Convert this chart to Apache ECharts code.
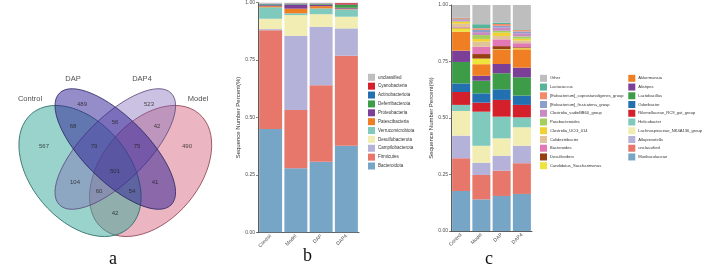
<!DOCTYPE html>
<html>
<head>
<meta charset="utf-8">
<script src="https://cdn.jsdelivr.net/npm/echarts@6/dist/echarts.min.js"></script>
<style>
html, body { margin: 0; padding: 0; background: #fff; }
#main { width: 709px; height: 271px; }
</style>
</head>
<body>
<div id="main"></div>
<script>
// groups on the x axis of b and c
const groups = ['Control', 'Model', 'DAP', 'DAP4']

// a: venn
const vennSets = ['Model', 'Control', 'DAP4', 'DAP']
const vennCounts = [489, 523, 68, 56, 42, 567, 79, 75, 490, 501, 104, 41, 60, 54, 42]

// b: phylum level, listed bottom -> top of each bar
const phylumNames = ['Bacteroidota', 'Firmicutes', 'Campilobacterota', 'Desulfobacterota', 'Verrucomicrobiota',
  'Patescibacteria', 'Proteobacteria', 'Deferribacterota', 'Actinobacteriota', 'Cyanobacteria', 'unclassified']
const phylumControl = [0.450, 0.430, 0.005, 0.045, 0.050, 0.005, 0.004, 0.003, 0.002, 0.001, 0.005]
const phylumModel = [0.279, 0.254, 0.323, 0.090, 0.008, 0.020, 0.018, 0.002, 0.002, 0.001, 0.003]
const phylumDAP = [0.307, 0.334, 0.254, 0.055, 0.025, 0.010, 0.006, 0.003, 0.002, 0.001, 0.003]
const phylumDAP4 = [0.377, 0.392, 0.119, 0.051, 0.032, 0.003, 0.004, 0.012, 0.002, 0.006, 0.002]

// c: genus level, listed bottom -> top of each bar
const genusNames = ['Muribaculaceae', 'unclassified', 'Alloprevotella', 'Lachnospiraceae_NK4A136_group', 'Helicobacter',
  'Rikenellaceae_RC9_gut_group', 'Odoribacter', 'Lactobacillus', 'Alistipes', 'Akkermansia',
  'Candidatus_Saccharimonas', 'Desulfovibrio', 'Bacteroides', 'Colidextribacter', 'Clostridia_UCG_014',
  'Parabacteroides', 'Clostridia_vadinBB60_group', '[Eubacterium]_fissicatena_group',
  '[Eubacterium]_coprostanoligenes_group', 'Lactococcus', 'Other']
const genusControl = [0.177, 0.145, 0.100, 0.109, 0.027, 0.057, 0.038, 0.095, 0.050, 0.084, 0.015, 0.002, 0.003, 0.015, 0.008, 0.003, 0.005, 0.004, 0.005, 0.002, 0.056]
const genusModel = [0.140, 0.108, 0.054, 0.075, 0.151, 0.040, 0.041, 0.056, 0.022, 0.051, 0.025, 0.020, 0.032, 0.023, 0.012, 0.017, 0.013, 0.010, 0.007, 0.018, 0.085]
const genusDAP = [0.155, 0.112, 0.066, 0.077, 0.096, 0.074, 0.047, 0.071, 0.041, 0.062, 0.003, 0.014, 0.030, 0.015, 0.015, 0.008, 0.014, 0.008, 0.008, 0.006, 0.078]
const genusDAP4 = [0.164, 0.136, 0.077, 0.082, 0.044, 0.055, 0.041, 0.081, 0.043, 0.081, 0.005, 0.004, 0.018, 0.012, 0.008, 0.010, 0.014, 0.008, 0.006, 0.003, 0.108]

// layout / styles (venn drawn in the order of vennSets)
const vennShapes = [
  { cx: 150.6, cy: 171, rx: 75, ry: 49, rot: 50, fill: 'rgba(216,110,134,0.5)', stroke: '#8f4756' },
  { cx: 80, cy: 171, rx: 75, ry: 49, rot: -50, fill: 'rgba(51,168,151,0.5)', stroke: '#2d6e67' },
  { cx: 115.3, cy: 149, rx: 79, ry: 32, rot: 45, fill: 'rgba(125,100,182,0.4)', stroke: '#5f4d80' },
  { cx: 115.3, cy: 149, rx: 79, ry: 32, rot: -45, fill: 'rgba(44,28,148,0.5)', stroke: '#2e2a66' }
]
const vennSetPos = [[198, 99], [30, 99], [142, 79], [73, 79]]
const vennCountPos = [[82, 104], [149, 104], [73, 126], [115, 122], [157, 126], [44, 146], [94, 146], [137, 146],
  [187, 146], [115, 171], [75, 182], [155, 182], [99, 191], [132, 191], [115, 213]]

const phylumColors = ['#76a5c6', '#e8776b', '#b4b2d8', '#f1edb3', '#80c9bd', '#f07e22', '#7c3f98', '#3c9c48',
  '#2270b0', '#d3202b', '#bebebe']
const genusColors = ['#76a5c6', '#e8776b', '#b4b2d8', '#f1edb3', '#80c9bd', '#d3202b', '#2270b0', '#3c9c48',
  '#7c3f98', '#f07e22', '#efe43b', '#963f12', '#e278b5', '#dfc39a', '#f2d134', '#a3cf5c', '#c88ac2', '#8b9fca',
  '#f28a6a', '#57b49b', '#bebebe']

const FONT = 'Liberation Sans'
const AXIS_COLOR = '#333'

function stackAxes(gridIndex, nameGap) {
  return {
    x: {
      type: 'category',
      gridIndex,
      data: groups,
      axisLine: { lineStyle: { color: AXIS_COLOR, width: 0.8 } },
      axisTick: { alignWithLabel: true, length: 2, lineStyle: { color: AXIS_COLOR, width: 0.6 } },
      axisLabel: { rotate: 45, fontSize: 5, margin: 3, color: '#4d4d4d', fontFamily: FONT }
    },
    y: {
      type: 'value',
      gridIndex,
      min: 0,
      max: 1,
      interval: 0.25,
      name: 'Sequence Number Percent(%)',
      nameLocation: 'middle',
      nameGap,
      nameTextStyle: { fontSize: 6, color: AXIS_COLOR, fontFamily: FONT },
      splitLine: { show: false },
      axisLine: { show: true, lineStyle: { color: AXIS_COLOR, width: 0.8 } },
      axisTick: { show: true, length: 2, lineStyle: { color: AXIS_COLOR, width: 0.6 } },
      axisLabel: { fontSize: 5, margin: 3, color: '#4d4d4d', fontFamily: FONT, formatter: v => v.toFixed(2) }
    }
  }
}

const axesB = stackAxes(1, 13)
const axesC = stackAxes(2, 11.5)

const phylumByGroup = [phylumControl, phylumModel, phylumDAP, phylumDAP4]
const genusByGroup = [genusControl, genusModel, genusDAP, genusDAP4]

const phylumSeries = phylumNames.map((name, k) => ({
  name,
  type: 'bar',
  stack: 'phylum',
  xAxisIndex: 1,
  yAxisIndex: 1,
  barCategoryGap: '9%',
  itemStyle: { color: phylumColors[k] },
  data: phylumByGroup.map(g => g[k])
}))

const genusSeries = genusNames.map((name, k) => ({
  name,
  type: 'bar',
  stack: 'genus',
  xAxisIndex: 2,
  yAxisIndex: 2,
  barCategoryGap: '11%',
  itemStyle: { color: genusColors[k] },
  data: genusByGroup.map(g => g[k])
}))

const legendBase = {
  orient: 'vertical',
  icon: 'rect',
  itemWidth: 7,
  itemHeight: 7,
  padding: 0,
  selectedMode: false,
  textStyle: { fontSize: 4.5, color: AXIS_COLOR, fontFamily: FONT, padding: [0, 0, 0, -2] }
}

const genusRev = genusNames.slice().reverse()
const legendC = name => name === 'unclassified'
  ? { name, itemStyle: { color: genusColors[1] } }
  : { name }

const chart = echarts.init(document.getElementById('main'))
chart.setOption({
  animation: false,
  grid: [
    { left: 0, top: 0, width: 230, height: 271 },
    { left: 258, top: 2.7, width: 101, height: 229.6 },
    { left: 451, top: 5, width: 81, height: 226 }
  ],
  xAxis: [
    { type: 'value', gridIndex: 0, min: 0, max: 230, show: false },
    axesB.x,
    axesC.x
  ],
  yAxis: [
    { type: 'value', gridIndex: 0, min: 0, max: 271, inverse: true, show: false },
    axesB.y,
    axesC.y
  ],
  legend: [
    Object.assign({}, legendBase, {
      left: 368, top: 73.8, itemGap: 1.87,
      data: phylumNames.slice().reverse()
    }),
    Object.assign({}, legendBase, {
      left: 540, top: 74.8, itemGap: 1.74,
      textStyle: Object.assign({}, legendBase.textStyle, { fontSize: 4.1 }),
      data: genusRev.slice(0, 11).map(legendC)
    }),
    Object.assign({}, legendBase, {
      left: 628.3, top: 74.8, itemGap: 1.74,
      textStyle: Object.assign({}, legendBase.textStyle, { fontSize: 4.1 }),
      data: genusRev.slice(11).map(legendC)
    })
  ],
  graphic: [
    { type: 'text', left: 109, top: 250, style: { text: 'a', fontSize: 18, fontFamily: 'Liberation Serif', fill: '#111' } },
    { type: 'text', left: 303, top: 247, style: { text: 'b', fontSize: 18, fontFamily: 'Liberation Serif', fill: '#111' } },
    { type: 'text', left: 485, top: 250, style: { text: 'c', fontSize: 18, fontFamily: 'Liberation Serif', fill: '#111' } }
  ],
  series: [
    {
      type: 'custom',
      xAxisIndex: 0,
      yAxisIndex: 0,
      silent: true,
      data: vennSets.map((name, i) => ({ name, value: [vennShapes[i].cx, vennShapes[i].cy] })),
      renderItem: (params, api) => {
        const s = vennShapes[params.dataIndex]
        const c = api.coord([api.value(0), api.value(1)])
        const unit = api.size([1, 1])
        return {
          type: 'ellipse',
          x: c[0],
          y: c[1],
          rotation: s.rot * Math.PI / 180,
          shape: { cx: 0, cy: 0, rx: s.rx * unit[0], ry: s.ry * unit[1] },
          style: { fill: s.fill, stroke: s.stroke, lineWidth: 0.8 }
        }
      }
    },
    {
      type: 'scatter',
      xAxisIndex: 0,
      yAxisIndex: 0,
      symbolSize: 0,
      silent: true,
      data: vennCounts.map((v, i) => [vennCountPos[i][0], vennCountPos[i][1], v]),
      label: {
        show: true, position: 'inside', fontSize: 6, color: '#222', fontFamily: FONT,
        formatter: p => p.value[2]
      }
    },
    {
      type: 'scatter',
      xAxisIndex: 0,
      yAxisIndex: 0,
      symbolSize: 0,
      silent: true,
      data: vennSets.map((name, i) => ({ name, value: vennSetPos[i] })),
      label: { show: true, position: 'inside', fontSize: 7.5, color: '#222', fontFamily: FONT, formatter: p => p.name }
    }
  ].concat(phylumSeries, genusSeries)
})
</script>
</body>
</html>
